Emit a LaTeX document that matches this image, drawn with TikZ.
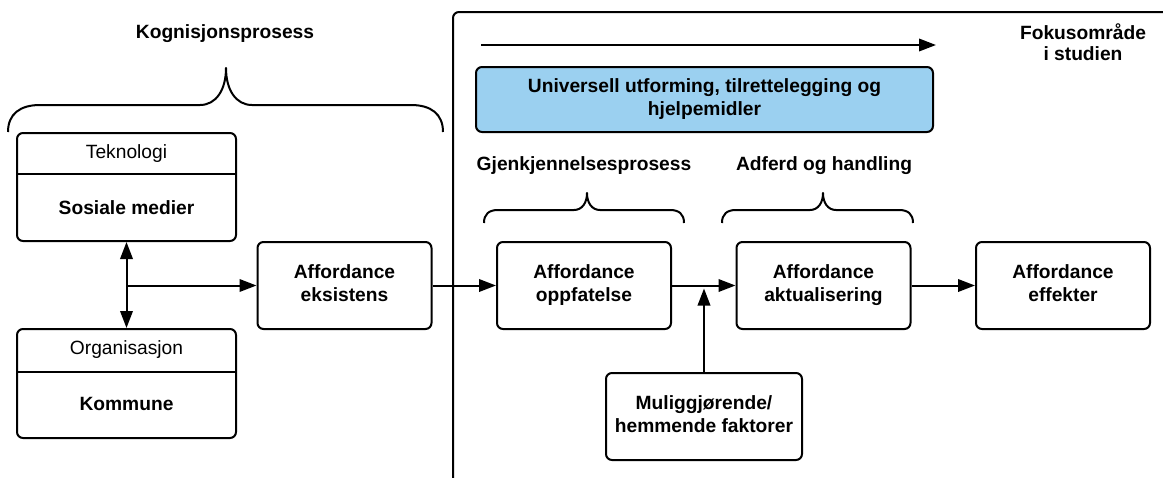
\documentclass[tikz,border=0pt]{standalone}
\usepackage{fontspec}
\setmainfont{Liberation Sans}
\usetikzlibrary{arrows.meta,calc}
\definecolor{boxblue}{RGB}{155,208,240}
% centred multi-line text, raised slightly inside its box
\newcommand\liftedtext[1]{\raisebox{3pt}{\begin{tabular}{@{}c@{}}#1\end{tabular}}}
\begin{document}
\begin{tikzpicture}[x=1pt,y=-1pt,
  txt/.style={font=\fontsize{19.2}{23}\selectfont, inner sep=0pt},
  btxt/.style={txt, font=\fontsize{19.2}{23}\selectfont\bfseries},
  box/.style={draw, line width=2pt, rounded corners=6pt, align=center,
    inner sep=0pt, font=\fontsize{19.2}{23}\selectfont\bfseries},
  flowbox/.style={box, minimum width=174pt, minimum height=87pt},
  conn/.style={line width=2pt, -{Triangle[length=17pt,width=12.5pt]}},
  bracepath/.style={line width=2pt, line join=round}]
\useasboundingbox (0,0) rectangle (1163,477);
\clip (0,0) rectangle (1163,477);

% frame of the study's focus area (runs off the right and bottom edges)
\draw[line width=2pt, rounded corners=6pt] (453,12) rectangle (1200,520);

% left column: technology and organisation
\node[box, minimum width=219pt, minimum height=108pt] (tek) at (126.5,187) {};
\draw[line width=2pt] (17,174) -- (236,174);
\node[txt] (teklbl) at (126.5,153.5) {Teknologi};
\node[btxt] (tekname) at (126.5,207.5) {Sosiale medier};

\node[box, minimum width=219pt, minimum height=109pt] (org) at (126.5,383.5) {};
\draw[line width=2pt] (17,372) -- (236,372);
\node[txt] (orglbl) at (126.5,349.5) {Organisasjon};
\node[btxt] (orgname) at (126.5,403.5) {Kommune};

% process chain
\node[flowbox] (eks) at (344.5,285.5) {\liftedtext{Affordance\\eksistens}};
\node[flowbox] (opp) at (584,285.5) {\liftedtext{Affordance\\oppfatelse}};
\node[flowbox] (akt) at (823.5,285.5) {\liftedtext{Affordance\\aktualisering}};
\node[flowbox] (eff) at (1063,285.5) {\liftedtext{Affordance\\effekter}};
\node[box, minimum width=196pt, minimum height=87pt] (mul) at (704,416.5)
  {\liftedtext{Muliggjørende/\\hemmende faktorer}};

% universal design bar
\node[box, fill=boxblue, minimum width=457pt, minimum height=65pt] (ud) at (704.5,99.5)
  {\liftedtext{Universell utforming, tilrettelegging og\\hjelpemidler}};

% headings
\node[btxt, anchor=base] (kog) at (225,38) {Kognisjonsprosess};
\node[btxt, anchor=base] (gjen) at (584,170) {Gjenkjennelsesprosess};
\node[btxt, anchor=base] (adf) at (824,170) {Adferd og handling};
\node[btxt, align=center, font=\fontsize{19.2}{21}\selectfont\bfseries] (fok) at (1083,42)
  {Fokusområde\\i studien};

% braces
\draw[bracepath] (8,132) .. controls (8,114) and (20,105) .. (40,105) -- (200,105)
  .. controls (216,105) and (226,90) .. (226,68)
  .. controls (226,90) and (236,105) .. (252,105) -- (411,105)
  .. controls (431,105) and (443,114) .. (443,132);
\draw[bracepath] (484,223) .. controls (484,214) and (489,210) .. (498,210) -- (574,210)
  .. controls (582,210) and (587,203) .. (587,193)
  .. controls (587,203) and (592,210) .. (600,210) -- (670,210)
  .. controls (679,210) and (684,214) .. (684,223);
\draw[bracepath] (722,223) .. controls (722,214) and (727,210) .. (736,210) -- (810,210)
  .. controls (818,210) and (823,203) .. (823,193)
  .. controls (823,203) and (828,210) .. (836,210) -- (899,210)
  .. controls (908,210) and (913,214) .. (913,223);

% connectors
\coordinate (arrA) at (481,45);
\coordinate (arrB) at (936,45);
\draw[conn] (arrA) -- (arrB);

\draw[line width=2pt, {Triangle[length=17pt,width=12.5pt]}-{Triangle[length=17pt,width=12.5pt]}]
  (tek.south) -- (org.north);
\coordinate (split) at (tek.south |- eks.west);
\draw[conn] (split) -- (eks.west);
\draw[conn] (eks.east) -- (opp.west);
\draw[conn] (opp.east) -- (akt.west);
\draw[conn] (akt.east) -- (eff.west);
\coordinate (join) at ($(mul.north |- opp.east)+(0,3)$);
\draw[conn] (mul.north) -- (join);
\end{tikzpicture}
\end{document}
